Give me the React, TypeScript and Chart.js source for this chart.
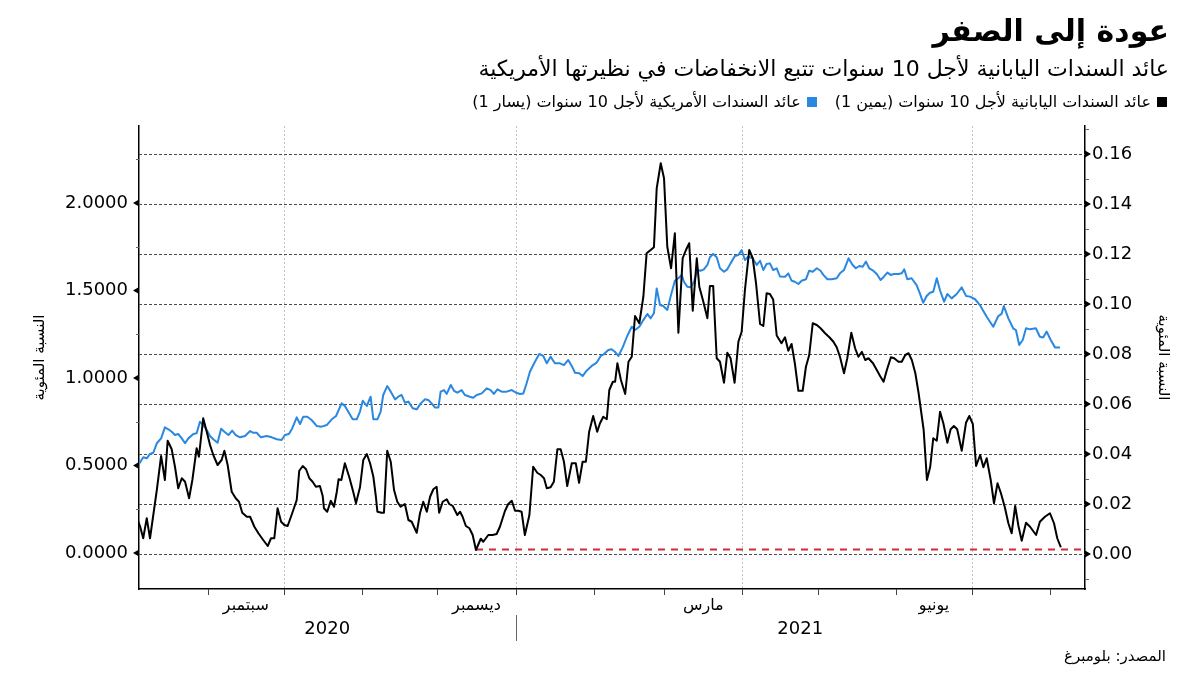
import React, { useEffect, useRef } from "react";
import { Chart, registerables } from "chart.js";

Chart.register(...registerables);

const FONT = '"DejaVu Sans", sans-serif';

const titleText = "عودة إلى الصفر";
const subtitleText = "عائد السندات اليابانية لأجل 10 سنوات تتبع الانخفاضات في نظيرتها الأمريكية";
const legendJapan = "عائد السندات اليابانية لأجل 10 سنوات (يمين 1)";
const legendUS = "عائد السندات الأمريكية لأجل 10 سنوات (يسار 1)";
const axisTitle = "النسبة المئوية";
const sourceText = "المصدر: بلومبرغ";

// x values are days counted from 1 September 2020
const xMin = -27.37;
const xMax = 347.9;
const monthStartDays = [-31, 0, 30, 61, 91, 122, 153, 181, 212, 242, 273, 303, 334];
const quarterStartDays = [30, 122, 212, 303];
const monthLabels = ["سبتمبر", "ديسمبر", "مارس", "يونيو"];
const monthLabelIndex = [1, 4, 7, 10]; // index into monthStartDays (Sep, Dec, Mar, Jun)
const yearLabels = ["2020", "2021"];
const yearBoundaryDay = 122;

const leftTicks = [0, 0.5, 1, 1.5, 2];
const leftMinorTicks = [0.25, 0.75, 1.25, 1.75, 2.25];
const rightTicks = [0, 0.02, 0.04, 0.06, 0.08, 0.1, 0.12, 0.14, 0.16];
const rightMinorTicks = [-0.01, 0.01, 0.03, 0.05, 0.07, 0.09, 0.11, 0.13, 0.15, 0.17];

// US 10-year yield, left axis (%)
const usYield: [number, number][] = [
  [-27.6,0.503],[-25.7,0.547],[-24.3,0.541],[-23.0,0.566],[-21.7,0.573],[-20.3,0.627],[-18.6,0.655],[-17.1,0.718],[-15.7,0.707],[-14.4,0.693],
  [-13.1,0.674],[-11.8,0.680],[-10.4,0.655],[-9.1,0.627],[-7.8,0.655],[-5.8,0.680],[-4.5,0.684],[-3.2,0.750],[-1.9,0.731],[-0.5,0.703],
  [0.8,0.669],[2.1,0.650],[3.8,0.630],[5.2,0.710],[6.5,0.693],[8.1,0.674],[9.6,0.699],[11.0,0.674],[12.7,0.661],[14.7,0.669],
  [16.7,0.697],[18.0,0.687],[19.3,0.687],[21.0,0.661],[23.3,0.669],[25.3,0.661],[27.3,0.650],[29.2,0.646],[30.5,0.674],[32.1,0.680],
  [33.4,0.712],[35.2,0.775],[36.5,0.737],[37.8,0.779],[39.4,0.779],[41.1,0.760],[43.1,0.726],[45.1,0.722],[47.1,0.731],[49.1,0.764],
  [50.8,0.783],[53.0,0.855],[54.3,0.840],[56.0,0.798],[57.4,0.764],[59.0,0.764],[60.3,0.808],[61.4,0.870],[63.0,0.840],[64.5,0.893],
  [65.6,0.764],[67.2,0.764],[68.5,0.808],[69.5,0.903],[71.1,0.954],[72.5,0.922],[74.2,0.878],[75.5,0.893],[76.8,0.903],[78.1,0.859],
  [79.5,0.865],[81.2,0.827],[82.8,0.821],[84.4,0.855],[86.1,0.878],[87.4,0.874],[88.7,0.855],[90.0,0.832],[91.4,0.832],[92.3,0.922],
  [93.6,0.931],[94.7,0.909],[96.3,0.960],[97.6,0.927],[98.9,0.916],[100.6,0.931],[101.9,0.903],[103.9,0.893],[105.2,0.887],[106.6,0.903],
  [108.6,0.912],[110.6,0.941],[112.1,0.931],[113.4,0.909],[114.8,0.935],[116.5,0.922],[118.5,0.922],[120.5,0.931],[122.2,0.916],[123.8,0.909],
  [125.1,0.912],[126.4,0.970],[127.7,1.036],[129.7,1.093],[131.4,1.137],[133.0,1.126],[134.4,1.084],[135.9,1.122],[137.6,1.084],[139.6,1.084],
  [141.2,1.074],[142.9,1.103],[144.3,1.069],[145.6,1.030],[147.3,1.027],[148.6,1.011],[150.2,1.042],[152.2,1.069],[154.2,1.088],[155.8,1.126],
  [157.1,1.137],[158.8,1.160],[160.1,1.164],[161.4,1.150],[162.8,1.126],[164.5,1.175],[166.3,1.240],[168.1,1.293],[169.4,1.274],[171.1,1.293],
  [172.7,1.331],[174.3,1.366],[175.6,1.341],[176.9,1.370],[178.0,1.512],[179.3,1.417],[180.6,1.411],[182.2,1.389],[183.5,1.465],[185.2,1.556],
  [186.6,1.570],[187.9,1.589],[188.8,1.550],[190.1,1.522],[191.5,1.518],[192.8,1.550],[194.1,1.617],[195.4,1.613],[196.7,1.621],[198.1,1.646],
  [199.1,1.690],[200.4,1.709],[201.8,1.690],[203.1,1.627],[204.7,1.607],[206.0,1.621],[207.3,1.655],[209.0,1.697],[210.4,1.703],[211.7,1.731],
  [213.0,1.674],[214.3,1.693],[216.1,1.684],[217.7,1.646],[219.0,1.670],[220.3,1.617],[221.6,1.651],[222.9,1.655],[224.2,1.617],[225.6,1.627],
  [226.9,1.580],[228.9,1.579],[230.2,1.598],[231.5,1.556],[232.8,1.550],[234.2,1.537],[235.5,1.556],[237.2,1.564],[238.5,1.613],[239.9,1.607],
  [241.5,1.627],[243.0,1.613],[244.1,1.589],[245.7,1.564],[247.4,1.564],[249.4,1.570],[250.7,1.598],[252.3,1.617],[254.1,1.684],[255.7,1.646],
  [257.0,1.627],[258.4,1.640],[259.7,1.636],[261.0,1.665],[262.3,1.627],[263.9,1.613],[265.3,1.594],[266.8,1.560],[268.1,1.579],[269.5,1.602],
  [270.8,1.589],[272.1,1.594],[273.8,1.594],[275.2,1.598],[276.2,1.621],[277.4,1.564],[279.1,1.570],[281.1,1.531],[282.4,1.484],[283.7,1.430],
  [285.1,1.469],[286.4,1.487],[287.7,1.493],[289.1,1.570],[290.4,1.500],[292.0,1.436],[293.3,1.480],[295.0,1.455],[297.0,1.480],[299.0,1.518],
  [300.7,1.469],[302.3,1.465],[304.3,1.450],[306.2,1.417],[308.9,1.350],[311.5,1.293],[313.5,1.354],[314.8,1.366],[315.7,1.411],[317.5,1.341],
  [319.4,1.284],[320.5,1.274],[321.8,1.189],[323.2,1.217],[324.5,1.284],[326.1,1.278],[328.4,1.284],[330.0,1.236],[331.3,1.232],[332.7,1.265],
  [334.3,1.217],[336.0,1.175],[338.0,1.174],
];

// Japan 10-year yield, right axis (%)
const japanYield: [number, number][] = [
  [-27.6,0.0129],[-26.9,0.0109],[-25.7,0.0063],[-24.3,0.0143],[-23.0,0.0063],[-21.7,0.0156],[-20.3,0.0256],[-18.6,0.0392],[-17.1,0.0296],[-16.0,0.0453],
  [-14.4,0.0419],[-13.1,0.0349],[-11.8,0.0263],[-10.4,0.0303],[-9.1,0.0289],[-7.5,0.0223],[-6.2,0.0296],[-4.5,0.0423],[-3.6,0.0389],[-1.9,0.0543],
  [-0.5,0.0489],[0.8,0.0436],[2.1,0.0396],[3.8,0.0356],[5.4,0.0376],[6.5,0.0413],[7.8,0.0356],[9.4,0.0249],[11.0,0.0223],[12.3,0.0209],
  [13.6,0.0165],[15.4,0.0149],[16.7,0.0149],[18.4,0.0109],[20.0,0.0083],[21.9,0.0056],[23.7,0.0032],[25.0,0.0063],[26.3,0.0063],[27.6,0.0183],
  [29.0,0.0129],[30.3,0.0116],[31.6,0.0112],[33.4,0.0163],[35.2,0.0216],[36.2,0.0333],[37.6,0.0352],[38.9,0.0339],[40.2,0.0303],[41.5,0.0289],
  [42.8,0.0269],[44.4,0.0272],[45.5,0.0232],[46.0,0.0183],[47.3,0.0169],[48.7,0.0213],[50.0,0.0189],[51.1,0.0249],[51.8,0.0299],[52.9,0.0296],
  [54.3,0.0363],[56.0,0.0309],[57.6,0.0249],[58.7,0.0203],[60.3,0.0267],[61.6,0.0376],[63.0,0.0400],[64.3,0.0363],[65.6,0.0309],[66.6,0.0229],
  [67.2,0.0169],[68.9,0.0165],[69.8,0.0165],[71.1,0.0413],[72.5,0.0369],[73.8,0.0256],[75.1,0.0209],[76.4,0.0189],[78.1,0.0200],[79.5,0.0136],
  [80.8,0.0129],[81.7,0.0109],[82.8,0.0085],[84.1,0.0163],[85.4,0.0209],[86.8,0.0169],[88.1,0.0229],[89.4,0.0259],[90.7,0.0269],[91.7,0.0165],
  [93.1,0.0209],[94.7,0.0219],[95.7,0.0200],[97.1,0.0192],[98.9,0.0156],[100.0,0.0169],[101.0,0.0149],[102.3,0.0112],[103.7,0.0103],[105.0,0.0076],
  [106.3,0.0016],[108.2,0.0061],[109.2,0.0049],[111.2,0.0076],[112.9,0.0076],[114.5,0.0080],[115.8,0.0109],[117.8,0.0172],[119.1,0.0200],[120.5,0.0213],
  [121.8,0.0173],[123.1,0.0173],[124.4,0.0169],[125.7,0.0076],[127.5,0.0156],[129.0,0.0349],[130.6,0.0325],[132.0,0.0316],[133.3,0.0303],[134.4,0.0263],
  [135.9,0.0267],[137.2,0.0289],[138.6,0.0419],[139.9,0.0419],[141.2,0.0369],[142.5,0.0272],[144.3,0.0363],[145.9,0.0363],[147.2,0.0285],[148.6,0.0369],
  [149.9,0.0369],[151.2,0.0489],[152.8,0.0552],[154.4,0.0489],[155.5,0.0523],[156.8,0.0549],[158.2,0.0539],[159.2,0.0656],[160.6,0.0689],[161.5,0.0689],
  [162.4,0.0763],[163.8,0.0696],[165.5,0.0640],[166.8,0.0769],[168.1,0.0789],[169.4,0.0952],[171.1,0.0923],[172.7,0.1029],[174.0,0.1203],[175.6,0.1216],
  [176.9,0.1227],[178.0,0.1463],[179.6,0.1563],[180.9,0.1503],[182.2,0.1229],[183.7,0.1143],[185.2,0.1283],[186.6,0.0885],[188.3,0.1183],[189.6,0.1216],
  [190.9,0.1243],[192.3,0.0973],[193.9,0.1183],[194.9,0.1069],[196.5,0.1009],[198.1,0.0943],[199.1,0.1072],[200.4,0.1072],[201.8,0.0783],[203.1,0.0769],
  [204.7,0.0685],[206.0,0.0805],[207.3,0.0783],[208.9,0.0685],[210.4,0.0849],[211.7,0.0889],[213.0,0.1056],[214.7,0.1216],[216.1,0.1183],[217.4,0.1083],
  [219.0,0.0920],[220.3,0.0912],[221.6,0.1043],[222.9,0.1040],[224.2,0.1018],[225.6,0.0874],[227.5,0.0843],[228.9,0.0867],[230.2,0.0813],[231.5,0.0840],
  [232.8,0.0763],[234.2,0.0653],[235.9,0.0653],[237.2,0.0749],[238.5,0.0796],[239.9,0.0923],[241.5,0.0916],[243.0,0.0903],[244.8,0.0883],[246.5,0.0867],
  [248.1,0.0849],[249.4,0.0827],[250.7,0.0789],[252.3,0.0723],[253.6,0.0783],[255.2,0.0885],[256.7,0.0823],[258.0,0.0789],[259.4,0.0809],[260.7,0.0776],
  [262.0,0.0783],[263.8,0.0763],[265.3,0.0736],[266.6,0.0712],[268.0,0.0689],[269.3,0.0736],[270.9,0.0787],[272.2,0.0783],[273.9,0.0769],[275.2,0.0769],
  [276.6,0.0796],[277.9,0.0803],[279.2,0.0776],[280.6,0.0723],[281.9,0.0643],[283.9,0.0496],[285.2,0.0296],[286.5,0.0349],[287.7,0.0463],[289.1,0.0453],
  [290.4,0.0569],[291.7,0.0523],[293.3,0.0445],[294.6,0.0499],[295.9,0.0512],[297.2,0.0499],[299.0,0.0413],[300.7,0.0525],[302.0,0.0552],[303.4,0.0520],
  [304.7,0.0352],[306.3,0.0396],[307.6,0.0347],[308.9,0.0383],[310.5,0.0296],[311.8,0.0203],[313.2,0.0283],[314.5,0.0245],[316.1,0.0187],[317.5,0.0123],
  [318.8,0.0083],[320.2,0.0192],[321.5,0.0112],[322.8,0.0053],[324.5,0.0125],[326.1,0.0109],[328.5,0.0076],[330.0,0.0129],[332.0,0.0149],[334.0,0.0163],
  [335.6,0.0123],[336.9,0.0063],[338.3,0.0027],
];

// December low carried forward as a reference level (right axis)
const refLineDays = [106.3, 347.9];
const refLineLevel = [0.0018, 0.0018];

const BLUE = "#2b88e0";
const RED = "#cf2a3f";

const decorPlugin = {
  id: "decor",
  beforeDatasetsDraw(chart: any) {
    const { ctx, chartArea: a, scales } = chart;
    const xs = scales.x;
    const yr = scales.y1;
    ctx.save();
    ctx.lineWidth = 1;
    ctx.strokeStyle = "#c2c2c2";
    ctx.setLineDash([2, 2]);
    for (const d of quarterStartDays) {
      const px = Math.round(xs.getPixelForValue(d)) + 0.5;
      ctx.beginPath();
      ctx.moveTo(px, a.top);
      ctx.lineTo(px, a.bottom);
      ctx.stroke();
    }
    ctx.strokeStyle = "#4a4a4a";
    ctx.setLineDash([3, 2]);
    for (const v of rightTicks) {
      const py = Math.round(yr.getPixelForValue(v)) + 0.5;
      ctx.beginPath();
      ctx.moveTo(a.left, py);
      ctx.lineTo(a.right, py);
      ctx.stroke();
    }
    ctx.restore();
  },
  afterDraw(chart: any) {
    const { ctx, chartArea: a, scales } = chart;
    const xs = scales.x;
    const yl = scales.y;
    const yr = scales.y1;
    ctx.save();
    ctx.setLineDash([]);
    // left axis marks
    ctx.fillStyle = "#000";
    for (const v of leftTicks) {
      const py = yl.getPixelForValue(v);
      ctx.beginPath();
      ctx.moveTo(a.left, py - 3.5);
      ctx.lineTo(a.left - 6, py);
      ctx.lineTo(a.left, py + 3.5);
      ctx.closePath();
      ctx.fill();
    }
    ctx.strokeStyle = "#666";
    ctx.lineWidth = 1;
    for (const v of leftMinorTicks) {
      const py = Math.round(yl.getPixelForValue(v)) + 0.5;
      if (py < a.top || py > a.bottom) continue;
      ctx.beginPath();
      ctx.moveTo(a.left - 3, py);
      ctx.lineTo(a.left, py);
      ctx.stroke();
    }
    // right axis marks
    for (const v of rightTicks) {
      const py = yr.getPixelForValue(v);
      ctx.beginPath();
      ctx.moveTo(a.right, py - 3.5);
      ctx.lineTo(a.right + 6, py);
      ctx.lineTo(a.right, py + 3.5);
      ctx.closePath();
      ctx.fill();
    }
    for (const v of rightMinorTicks) {
      const py = Math.round(yr.getPixelForValue(v)) + 0.5;
      if (py < a.top || py > a.bottom) continue;
      ctx.beginPath();
      ctx.moveTo(a.right, py);
      ctx.lineTo(a.right + 4, py);
      ctx.stroke();
    }
    // month ticks
    ctx.strokeStyle = "#444";
    for (const d of monthStartDays) {
      if (d < xMin || d > xMax) continue;
      const px = Math.round(xs.getPixelForValue(d)) + 0.5;
      ctx.beginPath();
      ctx.moveTo(px, a.bottom);
      ctx.lineTo(px, a.bottom + 6);
      ctx.stroke();
    }
    // month labels
    ctx.fillStyle = "#000";
    ctx.textAlign = "center";
    ctx.textBaseline = "middle";
    ctx.font = `16px ${FONT}`;
    monthLabels.forEach((lab, i) => {
      const k = monthLabelIndex[i];
      const mid = (monthStartDays[k] + monthStartDays[k + 1]) / 2;
      ctx.fillText(lab, xs.getPixelForValue(mid), a.bottom + 17);
    });
    // years
    const bx = xs.getPixelForValue(yearBoundaryDay);
    ctx.font = `18px ${FONT}`;
    ctx.fillText(yearLabels[0], (a.left + bx) / 2, a.bottom + 40);
    ctx.fillText(yearLabels[1], (bx + a.right) / 2, a.bottom + 40);
    ctx.strokeStyle = "#666";
    ctx.beginPath();
    ctx.moveTo(Math.round(bx) + 0.5, a.bottom + 26);
    ctx.lineTo(Math.round(bx) + 0.5, a.bottom + 52);
    ctx.stroke();
    ctx.restore();
  },
};

export default function App() {
  const ref = useRef<HTMLCanvasElement | null>(null);

  useEffect(() => {
    if (!ref.current) return;
    const chart = new Chart(ref.current, {
      type: "line",
      data: {
        datasets: [
          {
            label: legendJapan,
            data: japanYield.map(([x, y]) => ({ x, y })),
            yAxisID: "y1",
            borderColor: "#000",
            borderWidth: 2,
            pointRadius: 0,
            tension: 0,
            borderJoinStyle: "round",
            order: 1,
          },
          {
            label: "ref",
            data: refLineDays.map((x, i) => ({ x, y: refLineLevel[i] })),
            yAxisID: "y1",
            borderColor: RED,
            borderWidth: 2,
            borderDash: [7, 6],
            pointRadius: 0,
            order: 2,
          },
          {
            label: legendUS,
            data: usYield.map(([x, y]) => ({ x, y })),
            yAxisID: "y",
            borderColor: BLUE,
            borderWidth: 2,
            pointRadius: 0,
            tension: 0,
            borderJoinStyle: "round",
            order: 3,
          },
        ],
      },
      options: {
        animation: false,
        responsive: false,
        maintainAspectRatio: false,
        devicePixelRatio: 1,
        layout: { padding: { top: 126, left: 0, right: 0, bottom: 0 } },
        plugins: { legend: { display: false }, tooltip: { enabled: false } },
        scales: {
          x: {
            type: "linear",
            min: xMin,
            max: xMax,
            afterBuildTicks: (s: any) => {
              s.ticks = quarterStartDays.map((v) => ({ value: v }));
            },
            afterFit: (s: any) => {
              s.height = 86;
            },
            ticks: { display: false },
            grid: { display: false },
            border: { display: true, color: "#000", width: 1.5 },
          },
          y: {
            type: "linear",
            position: "left",
            min: -0.2057,
            max: 2.44,
            afterBuildTicks: (s: any) => {
              s.ticks = leftTicks.map((v) => ({ value: v }));
            },
            afterFit: (s: any) => {
              s.width = 139;
            },
            ticks: {
              callback: (v: any) => Number(v).toFixed(4),
              font: { family: FONT, size: 18 },
              color: "#000",
              padding: 11,
            },
            grid: { display: false, drawTicks: false },
            border: { display: true, color: "#000", width: 1.5 },
            title: {
              display: true,
              text: axisTitle,
              font: { family: FONT, size: 15 },
              color: "#000",
              padding: { top: 31, bottom: 0 },
            },
          },
          y1: {
            type: "linear",
            position: "right",
            min: -0.014,
            max: 0.1712,
            afterBuildTicks: (s: any) => {
              s.ticks = rightTicks.map((v) => ({ value: v }));
            },
            afterFit: (s: any) => {
              s.width = 115;
            },
            ticks: {
              callback: (v: any) => Number(v).toFixed(2),
              font: { family: FONT, size: 18 },
              color: "#000",
              padding: 7,
            },
            grid: { display: false, drawTicks: false },
            border: { display: true, color: "#000", width: 1.5 },
            title: {
              display: true,
              text: axisTitle,
              font: { family: FONT, size: 15 },
              color: "#000",
              padding: { top: 28, bottom: 0 },
            },
          },
        },
      },
      plugins: [decorPlugin],
    } as any);
    return () => chart.destroy();
  }, []);

  return (
    <div
      style={{
        position: "absolute",
        left: 0,
        top: 0,
        width: 1200,
        height: 675,
        background: "#fff",
        fontFamily: FONT,
        color: "#000",
        overflow: "hidden",
      }}
    >
      <canvas
        ref={ref}
        width={1200}
        height={675}
        style={{ position: "absolute", left: 0, top: 0, width: 1200, height: 675 }}
      />
      <div
        dir="rtl"
        style={{ position: "absolute", right: 31, top: 11, fontSize: 30, fontWeight: 700, lineHeight: "40px", whiteSpace: "nowrap" }}
      >
        {titleText}
      </div>
      <div
        dir="rtl"
        style={{ position: "absolute", right: 31, top: 54, fontSize: 22, lineHeight: "30px", whiteSpace: "nowrap" }}
      >
        {subtitleText}
      </div>
      <div
        dir="rtl"
        style={{
          position: "absolute",
          right: 33,
          top: 90,
          fontSize: 16,
          lineHeight: "24px",
          display: "flex",
          alignItems: "center",
          gap: 18,
          whiteSpace: "nowrap",
        }}
      >
        <span style={{ display: "flex", alignItems: "center", gap: 6 }}>
          <span style={{ width: 10, height: 10, background: "#000", display: "inline-block" }} />
          {legendJapan}
        </span>
        <span style={{ display: "flex", alignItems: "center", gap: 6 }}>
          <span style={{ width: 10, height: 10, background: BLUE, display: "inline-block" }} />
          {legendUS}
        </span>
      </div>
      <div
        dir="rtl"
        style={{ position: "absolute", right: 34, top: 645, fontSize: 15, lineHeight: "22px", whiteSpace: "nowrap" }}
      >
        {sourceText}
      </div>
    </div>
  );
}
